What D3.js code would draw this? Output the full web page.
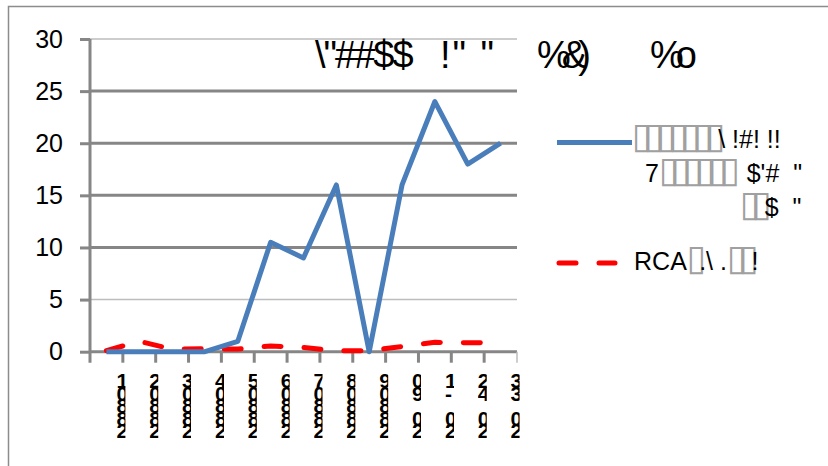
<!DOCTYPE html>
<html><head><meta charset="utf-8">
<script src="https://cdnjs.cloudflare.com/ajax/libs/d3/7.8.5/d3.min.js"></script>
<style>
html,body{margin:0;padding:0;background:#fff;}
svg{display:block;}
text{font-family:"Liberation Sans Narrow","Arial Narrow","Liberation Sans",Arial,sans-serif;fill:#000;}
</style></head>
<body>
<svg id="chart" width="828" height="466"></svg>
<script>
// ---- data ----
const categories = ["1","2","3","4","5","6","7","8","9","10","11","12","13"];
const xLabels = ["10882","20882","30882","40882","50882","60882","70882","80882","90882","09 02","1- 02","24 02","33 02"];
const seriesBlue = [0, 0, 0, 0, 1, 10.5, 9, 16, 0, 16, 24, 18, 20];
const seriesRed = [0.1, 1.0, 0.25, 0.3, 0.25, 0.55, 0.4, 0.1, 0.1, 0.5, 0.9, 0.85, 0.9];
const yTicks = [0, 5, 10, 15, 20, 25, 30];
const titleParts = ["\\\"##$$", "!\" \"", "%&)", "%o"];
const legendBlue = ["\u25AF\u25AF\u25AF\u25AF\u25AF\u25AF\u25AF\\ !#! !!", "7\u25AF\u25AF\u25AF\u25AF\u25AF\u25AF  $'#  \"", "\u25AF\u25AF$  \""];
const legendRed = "RCA\u25AF.\\ .\u25AF\u25AF!";

const svg = d3.select("#chart");
const plot = {left: 90, right: 517, top: 39, bottom: 351.7};
const axisColor = "#868686";

// outer frame
svg.append("rect").attr("x", 8.5).attr("y", 6.5).attr("width", 900).attr("height", 600)
  .attr("fill", "none").attr("stroke", "#8c8c8c").attr("stroke-width", 1.5);

const x = d3.scaleBand().domain(categories).range([plot.left, plot.right]).padding(0);
const y = d3.scaleLinear().domain([0, 30]).range([plot.bottom, plot.top]);

// gridlines
svg.append("g").selectAll("line").data(yTicks.filter(d => d > 0)).join("line")
  .attr("x1", plot.left).attr("x2", plot.right)
  .attr("y1", d => y(d)).attr("y2", d => y(d))
  .attr("stroke", d => (d === 5 || d === 30) ? "#bdbdbd" : axisColor)
  .attr("stroke-width", d => (d === 5 || d === 30) ? 1.5 : 3);

// y axis
const yAxis = svg.append("g").attr("transform", `translate(${plot.left},0)`)
  .call(d3.axisLeft(y).tickValues(yTicks).tickSize(10).tickPadding(17).tickFormat(d3.format("d")));
yAxis.select(".domain").remove();
yAxis.selectAll(".tick line").attr("stroke", axisColor).attr("stroke-width", 3);
yAxis.selectAll(".tick text").attr("font-size", 25).attr("fill", "#000")
  .attr("font-family", "'Liberation Sans Narrow','Arial Narrow','Liberation Sans',sans-serif");
svg.append("line").attr("x1", plot.left).attr("x2", plot.left).attr("y1", plot.top).attr("y2", plot.bottom + 11)
  .attr("stroke", axisColor).attr("stroke-width", 3);

// x axis
svg.append("line").attr("x1", plot.left).attr("x2", plot.right).attr("y1", plot.bottom).attr("y2", plot.bottom)
  .attr("stroke", axisColor).attr("stroke-width", 3);
svg.append("g").selectAll("line").data(categories).join("line")
  .attr("x1", d => x(d) + x.bandwidth()).attr("x2", d => x(d) + x.bandwidth())
  .attr("y1", plot.bottom).attr("y2", plot.bottom + 11)
  .attr("stroke", (d, i) => i === categories.length - 1 ? "#bdbdbd" : axisColor)
  .attr("stroke-width", (d, i) => i === categories.length - 1 ? 1.5 : 3);

// x labels: stacked characters, clipped
const defs = svg.append("defs");
categories.forEach((c, i) => {
  const cx = x(c) + x.bandwidth() / 2;
  defs.append("clipPath").attr("id", "clip" + i).append("rect")
    .attr("x", cx + 10).attr("y", 370).attr("width", 9).attr("height", 72);
  const t = svg.append("g").attr("clip-path", `url(#clip${i})`)
    .append("text").attr("font-size", 21).attr("font-weight", "bold")
    .attr("font-family", "'Liberation Sans','Arial',sans-serif");
  xLabels[i].split("").forEach((ch, r) => {
    t.append("tspan").attr("x", cx + 10).attr("y", 388 + r * 12.5).text(ch === " " ? "\u00A0" : ch);
  });
});

// lines
const lineGen = d3.line().x((d, i) => x(categories[i]) + x.bandwidth() / 2).y(d => y(d));
svg.append("path").datum(seriesRed).attr("d", lineGen).attr("fill", "none")
  .attr("stroke", "#ff0000").attr("stroke-width", 5).attr("stroke-linecap", "round")
  .attr("stroke-dasharray", "17,23");
svg.append("path").datum(seriesBlue).attr("d", lineGen).attr("fill", "none")
  .attr("stroke", "#4a7ebb").attr("stroke-width", 5).attr("stroke-linejoin", "round");

// title
const tpos = [[315, 68], [440, 68], [537, 68], [650, 68]];
const tspacing = [-2, 2, -9, -8];
titleParts.forEach((t, i) => {
  svg.append("text").attr("x", tpos[i][0]).attr("y", tpos[i][1]).attr("font-size", 38)
    .attr("letter-spacing", tspacing[i]).style("white-space", "pre").text(t);
});

// legend text helper: boxes drawn as light outline glyphs
function legendText(str, xx, yy) {
  const t = svg.append("text").attr("x", xx).attr("y", yy).attr("font-size", 25).style("white-space", "pre");
  str.split("").forEach(ch => {
    const isBox = ch === "\u25AF";
    const s = t.append("tspan").text(ch);
    if (isBox) {
      s.attr("fill", "#a0a0a0").attr("font-family", "'DejaVu Sans',sans-serif")
        .attr("font-size", 36).attr("letter-spacing", -7.5);
    }
  });
}

svg.append("line").attr("x1", 557).attr("x2", 632).attr("y1", 142.5).attr("y2", 142.5)
  .attr("stroke", "#4a7ebb").attr("stroke-width", 5);
const lpos = [[632, 148], [645, 182], [740, 216]];
legendBlue.forEach((t, i) => legendText(t, lpos[i][0], lpos[i][1]));
svg.append("line").attr("x1", 559).attr("x2", 615).attr("y1", 263).attr("y2", 263)
  .attr("stroke", "#ff0000").attr("stroke-width", 5).attr("stroke-linecap", "round")
  .attr("stroke-dasharray", "17,23");
legendText(legendRed, 634, 270);
</script>
</body></html>
